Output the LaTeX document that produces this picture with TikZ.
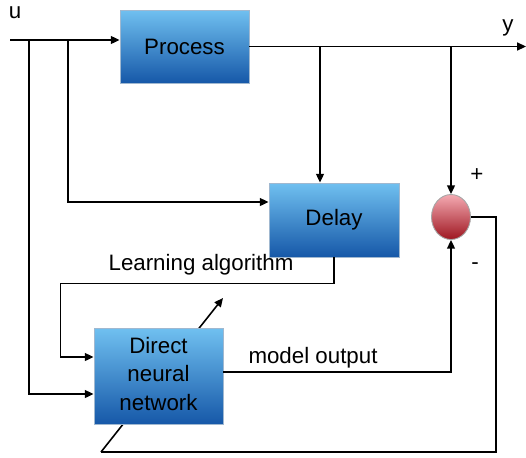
\documentclass[tikz,border=0pt]{standalone}
\usepackage{fontspec}
\setmainfont{Liberation Sans}
\usetikzlibrary{arrows.meta,shapes.geometric}
\definecolor{boxtop}{RGB}{112,192,240}
\definecolor{boxbot}{RGB}{22,88,168}
\definecolor{boxline}{RGB}{160,184,208}
\definecolor{sumtop}{RGB}{244,170,178}
\definecolor{sumbot}{RGB}{158,22,32}
\begin{document}
\begin{tikzpicture}[x=0.02cm,y=-0.02cm,
  font=\fontsize{12.7}{16.2}\selectfont,
  wire/.style={line width=0.9pt},
  arr/.style={wire,-{Triangle[length=5pt,width=4.5pt]}},
  blk/.style={draw=boxline,line width=0.5pt,top color=boxtop,bottom color=boxbot,
    inner sep=0pt,align=center},
  sumnode/.style={ellipse,draw=gray!70,line width=0.5pt,top color=sumtop,bottom color=sumbot,
    minimum width=0.78cm,minimum height=0.9cm,inner sep=0pt}
]
\useasboundingbox (0,0) rectangle (526,457);

% learning signal arrow, passing behind the network block
\coordinate (fbA) at (101,452);
\coordinate (fbB) at (223,298);
\draw[arr] (fbA) -- (fbB);

% blocks
\node[blk,minimum width=2.58cm,minimum height=1.46cm] (proc) at (184.5,46.5) {Process};
\node[blk,minimum width=2.6cm,minimum height=1.48cm] (delay) at (334,220) {Delay};
\node[blk,minimum width=2.58cm,minimum height=1.92cm] (dnn) at (158.5,376)
  {\raisebox{0.08cm}{\begin{tabular}{@{}c@{}}Direct\\neural\\network\end{tabular}}};
\node[sumnode] (sum) at (451,217) {};

% input u and its branches
\coordinate (uin) at (10,40);
\coordinate (b1) at (29,40);
\coordinate (b2) at (68,40);
\draw[arr] (uin) -- (uin -| proc.west);
\draw[arr] (b1) |- ([yshift=-0.36cm]dnn.west);
\draw[arr] (b2) |- ([yshift=0.36cm]delay.west);

% plant output y and its branches
\coordinate (yend) at (526,0);
\coordinate (t1) at (320,0);
\draw[arr] (proc.east) -- (proc.east -| yend);
\draw[arr] (proc.east -| t1) -- (t1 |- delay.north);
\draw[arr] (proc.east -| sum) -- (sum.north);

% learning algorithm path
\draw[arr] (delay.south) -- ++(0,26) -| ([xshift=-0.66cm,yshift=0.38cm]dnn.west)
  -- ([yshift=0.38cm]dnn.west);

% model output to the comparator
\draw[arr] ([yshift=0.08cm]dnn.east) -| (sum.south);

% error fed back
\coordinate (fbR) at (496,452);
\draw[wire] (sum.east) -| (fbR) -- (fbA);

% labels
\node (lu) at (15,13) {u};
\node (ly) at (508,28) {y};
\node (lp) at (477,175) {+};
\node (lm) at (475,266) {-};
\node (lla) at (201,265) {Learning algorithm};
\node (lmo) at (313,358) {model output};
\end{tikzpicture}
\end{document}
